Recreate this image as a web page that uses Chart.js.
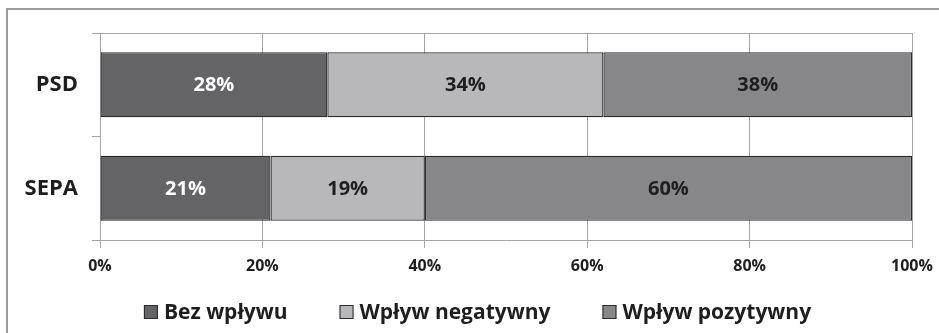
<!DOCTYPE html>
<html>
<head>
<meta charset="utf-8">
<script src="https://cdn.jsdelivr.net/npm/chart.js@4/dist/chart.umd.min.js"></script>
<style>
  html, body { margin: 0; padding: 0; background: #fff; }
  #wrap { width: 939px; height: 333px; position: relative; }
</style>
</head>
<body>
<div id="wrap"><canvas id="c" width="939" height="333"></canvas></div>
<script>
// Categories and shares (%) of each answer
const categories = ['PSD', 'SEPA'];
const seriesNames = ['Bez wpływu', 'Wpływ negatywny', 'Wpływ pozytywny'];
const bezWplywu = [28, 21];
const wplywNegatywny = [34, 19];
const wplywPozytywny = [38, 60];
const xTicks = ['0%', '20%', '40%', '60%', '80%', '100%'];

const FONT = "'Open Sans', 'DejaVu Sans', sans-serif";
const fills = ['#646466', '#b8b8ba', '#87878a'];
const labelColors = ['#ffffff', '#1e1e1e', '#1e1e1e'];
const LEGEND_SPACE = 50;

// light frame around the whole figure, plus the top edge of the plot area
const framePlugin = {
  id: 'frame',
  beforeDraw(chart) {
    const ctx = chart.ctx;
    ctx.save();
    ctx.fillStyle = '#ffffff';
    ctx.fillRect(0, 0, chart.width, chart.height);
    ctx.strokeStyle = '#9c9c9c';
    ctx.lineWidth = 2;
    ctx.beginPath();
    ctx.moveTo(7, chart.height);
    ctx.lineTo(7, 9);
    ctx.lineTo(chart.width, 9);
    ctx.stroke();
    ctx.restore();
  },
  afterDatasetsDraw(chart) {
    const ctx = chart.ctx;
    const a = chart.chartArea;
    ctx.save();
    ctx.strokeStyle = '#a4a4a4';
    ctx.lineWidth = 1;
    ctx.beginPath();
    ctx.moveTo(a.left, Math.round(a.top) + 0.5);
    ctx.lineTo(a.right, Math.round(a.top) + 0.5);
    ctx.stroke();
    ctx.restore();
  }
};

// percentage labels in the middle of every segment
const valueLabels = {
  id: 'valueLabels',
  afterDatasetsDraw(chart) {
    const ctx = chart.ctx;
    ctx.save();
    ctx.font = 'bold 20px ' + FONT;
    ctx.textAlign = 'center';
    ctx.textBaseline = 'middle';
    chart.data.datasets.forEach((ds, di) => {
      const meta = chart.getDatasetMeta(di);
      meta.data.forEach((bar, i) => {
        const p = bar.getProps(['x', 'y', 'base'], true);
        const cx = (p.x + p.base) / 2;
        ctx.fillStyle = labelColors[di];
        ctx.fillText(ds.data[i] + '%', cx, p.y + 1);
      });
    });
    ctx.restore();
  }
};

// legend row under the axis: square swatch, then the series name
const legendRow = {
  id: 'legendRow',
  afterDraw(chart) {
    const ctx = chart.ctx;
    const box = 14, textGap = 6, itemGap = 52;
    const cy = chart.height - 21;
    ctx.save();
    ctx.font = 'bold 21px ' + FONT;
    ctx.textBaseline = 'middle';
    const widths = chart.data.datasets.map(ds => box + textGap + ctx.measureText(ds.label).width);
    const total = widths.reduce((s, w) => s + w, 0) + itemGap * (widths.length - 1);
    let x = (chart.width - total) / 2 + 8;
    chart.data.datasets.forEach((ds, i) => {
      ctx.fillStyle = ds.backgroundColor;
      ctx.fillRect(x, cy - box / 2, box, box);
      ctx.strokeStyle = '#2a2a2a';
      ctx.lineWidth = 1;
      ctx.strokeRect(x + 0.5, cy - box / 2 + 0.5, box - 1, box - 1);
      ctx.fillStyle = '#1e1e1e';
      ctx.textAlign = 'left';
      ctx.fillText(ds.label, x + box + textGap, cy + 1);
      x += widths[i] + itemGap;
    });
    ctx.restore();
  }
};

const seriesValues = [bezWplywu, wplywNegatywny, wplywPozytywny];

new Chart(document.getElementById('c'), {
  type: 'bar',
  data: {
    labels: categories,
    datasets: seriesNames.map((name, i) => ({
      label: name,
      data: seriesValues[i],
      backgroundColor: fills[i],
      borderColor: '#2a2a2a',
      borderWidth: 1.3,
      borderSkipped: false,
      barPercentage: 0.63,
      categoryPercentage: 1
    }))
  },
  options: {
    indexAxis: 'y',
    responsive: false,
    animation: false,
    devicePixelRatio: 1,
    layout: { padding: { top: 33, right: 27, left: 0, bottom: LEGEND_SPACE } },
    scales: {
      x: {
        stacked: true,
        min: 0,
        max: 100,
        afterFit(scale) {
          scale.height = 93 - LEGEND_SPACE;
          scale.paddingLeft = 0;
          scale.paddingRight = 0;
        },
        grid: { color: '#a4a4a4', lineWidth: 1, tickLength: 8, drawTicks: true },
        border: { color: '#a4a4a4' },
        ticks: {
          stepSize: 20,
          padding: 9,
          color: '#1e1e1e',
          font: { family: FONT, size: 16, weight: 'bold' },
          callback: (v, i) => xTicks[i]
        }
      },
      y: {
        stacked: true,
        afterFit(scale) { scale.width = 100; },
        grid: { drawOnChartArea: false, color: '#a4a4a4', tickLength: 8, offset: true },
        border: { color: '#a4a4a4' },
        ticks: {
          padding: 14,
          color: '#1e1e1e',
          font: { family: FONT, size: 22, weight: 'bold' }
        }
      }
    },
    plugins: {
      legend: { display: false },
      tooltip: { enabled: false }
    }
  },
  plugins: [framePlugin, valueLabels, legendRow]
});
</script>
</body>
</html>
